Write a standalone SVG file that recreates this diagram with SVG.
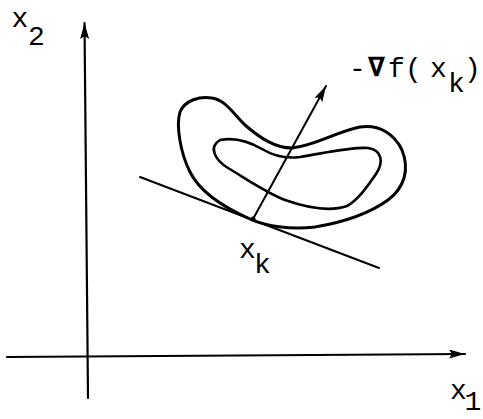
<svg xmlns="http://www.w3.org/2000/svg" width="483" height="419" viewBox="0 0 483 419">
<style>
.ln{fill:none;stroke:#000;stroke-linecap:round;stroke-linejoin:round}
.ax{stroke-width:2.2}
.ct{stroke-width:3}
.lb{font-family:"Liberation Mono","DejaVu Sans Mono",monospace;font-size:28px;fill:#000}
</style>
<defs>
<marker id="ah" markerUnits="userSpaceOnUse" markerWidth="18" markerHeight="10" refX="16" refY="4.5" orient="auto">
<path d="M0,0 L16,4.5 L0,9 L3,4.5 Z" fill="#000"/>
</marker>
</defs>
<rect width="483" height="419" fill="#fff"/>
<g id="connectors">
<line class="ln ax" x1="88" y1="398" x2="84.5" y2="23" marker-end="url(#ah)"/>
<line class="ln ax" x1="7" y1="357" x2="465" y2="354" marker-end="url(#ah)"/>
<line class="ln" stroke-width="2" x1="140" y1="177" x2="379" y2="268"/>
<line class="ln" stroke-width="2" x1="253" y1="219" x2="326" y2="86" marker-end="url(#ah)"/>
</g>
<g id="outer-contour">
<path class="ln ct" d="M 250,219 C 225,208 200,192 190,172 C 180,152 176,125 180,112 C 185,100 200,96 212,98 C 225,100 232,112 245,125 C 260,138 275,148 292,148 C 315,146 335,132 360,127 C 380,124 395,135 402,150 C 410,170 404,188 388,200 C 370,213 345,222 315,227 C 290,230 265,226 250,219 Z"/>
</g>
<g id="inner-contour">
<path class="ln" stroke-width="2.6" d="M 220,140 C 235,137 250,142 262,149 C 272,155 285,159 300,157 C 325,153 350,147 368,148 C 382,150 384,162 376,174 C 367,187 358,200 347,206 C 330,212 305,207 285,200 C 265,192 245,178 228,168 C 215,160 208,147 220,140 Z"/>
</g>
<g id="point-xk">
<circle cx="253" cy="219" r="2.5" fill="#000"/>
<text class="lb" x="239" y="258">x</text>
<text class="lb" x="254" y="273">k</text>
</g>
<g id="label-x2">
<text class="lb" x="11.6" y="27">x</text>
<text class="lb" x="28" y="45">2</text>
</g>
<g id="label-x1">
<text class="lb" x="450" y="399">x</text>
<text class="lb" x="464.6" y="410">1</text>
</g>
<g id="label-gradient">
<text class="lb" x="349" y="77">-</text>
<text class="lb" x="368" y="76" font-weight="bold" font-size="23">∇</text>
<text class="lb" x="388" y="77">f</text>
<text class="lb" x="405" y="77">(</text>
<text class="lb" x="430" y="77">x</text>
<text class="lb" x="448" y="92">k</text>
<text class="lb" x="464" y="77">)</text>
</g>
</svg>
